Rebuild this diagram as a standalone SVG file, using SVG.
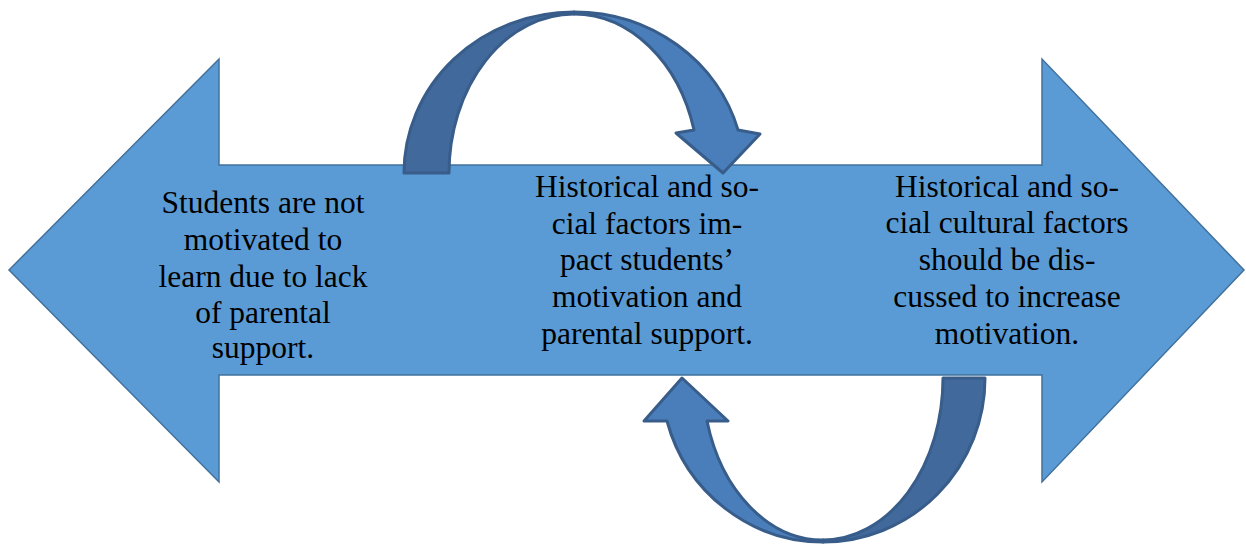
<svg xmlns="http://www.w3.org/2000/svg" width="1246" height="546" viewBox="0 0 1246 546">
<style>
.main{fill:#5b9bd5;stroke:#41719c;stroke-width:1.5;stroke-linejoin:miter}
.back{fill:#41699b;stroke:#385d8a;stroke-width:3;stroke-linejoin:round}
.front{fill:#4a7ebb;stroke:#385d8a;stroke-width:3;stroke-linejoin:round}
.lbl{font-family:"Times New Roman","Liberation Serif",Tinos,"Noto Serif","DejaVu Serif",FreeSerif,serif;font-size:31.5px;fill:#000;text-anchor:middle}
</style>
<rect width="1246" height="546" fill="#fff"/>
<g id="double-arrow">
<path class="main" d="M9,270 L219,59 L219,165 L1042,165 L1042,59 L1244,270 L1042,482 L1042,375 L219,375 L219,482 Z"/>
</g>
<g id="connectors">
<g id="top-curved-arrow">
<path class="back" d="M404,173 A170,161 0 0,1 574,12 L574,14 A125,159 0 0,0 449,173 Z"/>
<path class="front" d="M574,12 A170,161 0 0,1 738,130 L760,134 L723,173 L676,133 L694,130 A125,159 0 0,0 574,14 Z"/>
</g>
<g id="bottom-curved-arrow">
<path class="back" d="M985,378 A162,164 0 0,1 823,542 L823,540 A120,162 0 0,0 943,378 Z"/>
<path class="front" d="M823,542 A162,164 0 0,1 667,421 L644,421 L682,378 L728,421 L707,421 A120,162 0 0,0 823,540 Z"/>
</g>
</g>
<g id="node-left" class="lbl">
<text x="263" y="213">Students are not</text>
<text x="263" y="250">motivated to</text>
<text x="263" y="287">learn due to lack</text>
<text x="263" y="323">of parental</text>
<text x="263" y="358">support.</text>
</g>
<g id="node-middle" class="lbl">
<text x="647" y="197">Historical and so-</text>
<text x="647" y="234">cial factors im-</text>
<text x="647" y="270">pact students’</text>
<text x="647" y="307">motivation and</text>
<text x="647" y="344">parental support.</text>
</g>
<g id="node-right" class="lbl">
<text x="1007" y="197">Historical and so-</text>
<text x="1007" y="233">cial cultural factors</text>
<text x="1007" y="270">should be dis-</text>
<text x="1007" y="307">cussed to increase</text>
<text x="1007" y="344">motivation.</text>
</g>
</svg>
